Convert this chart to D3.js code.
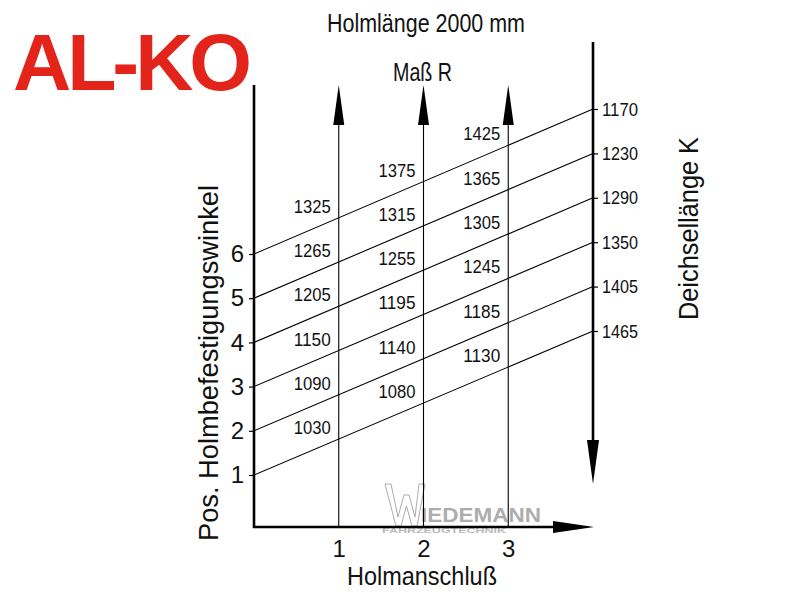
<!DOCTYPE html>
<html>
<head>
<meta charset="utf-8">
<script src="https://cdn.jsdelivr.net/npm/d3@7"></script>
<style>
  body { margin: 0; background: #fff; }
  text { font-family: "Liberation Sans Narrow", "Liberation Sans", sans-serif; fill: #111; }
</style>
</head>
<body>
<script>
// Positions of the Holm fixing angle (left scale)
const positions = [1, 2, 3, 4, 5, 6];
// Deichsellänge K at the right end of each position line (pos 1..6)
const kValues = [1465, 1405, 1350, 1290, 1230, 1170];
// Holmanschluss columns
const columns = [1, 2, 3];
// Maß R per column, for pos 1..6
const massR1 = [1030, 1090, 1150, 1205, 1265, 1325];
const massR2 = [1080, 1140, 1195, 1255, 1315, 1375];
const massR3 = [1130, 1185, 1245, 1305, 1365, 1425];
const massR = [massR1, massR2, massR3];

const width = 800, height = 600;

const svg = d3.select("body").append("svg")
    .attr("width", width)
    .attr("height", height);

// Scales
const x = d3.scaleLinear().domain([0, 4]).range([254, 593]);
const y = d3.scaleLinear().domain([1, 6]).range([475, 254]);
const yK = d3.scalePoint().domain(kValues).range([331, 109]);
const baseY = 527;

// Logo
svg.append("text")
    .attr("x", 13)
    .attr("y", 90)
    .attr("textLength", 235)
    .attr("lengthAdjust", "spacingAndGlyphs")
    .style("font-family", "Liberation Sans, Arial, sans-serif")
    .style("font-weight", "bold")
    .style("font-size", "80px")
    .style("letter-spacing", "-4px")
    .style("fill", "#e3241b")
    .text("AL-KO");

// Watermark (grey, behind the drawing)
const wm = svg.append("g").attr("opacity", 0.8);
wm.append("path")
    .attr("d", "M385,484 L391,484 L398,517 L404,495 L409,495 L415,517 L419,484 L425,484 L417,526 L412,526 L406.5,506 L401,526 L396,526 Z")
    .attr("fill", "none")
    .attr("stroke", "#999")
    .attr("stroke-width", 1);
wm.append("text")
    .attr("x", 421).attr("y", 522)
    .attr("textLength", 120)
    .attr("lengthAdjust", "spacingAndGlyphs")
    .style("font-family", "Liberation Sans, sans-serif")
    .style("font-weight", "bold")
    .style("font-size", "20px")
    .style("fill", "#999")
    .text("IEDEMANN");
wm.append("text")
    .attr("x", 382).attr("y", 532.5)
    .attr("textLength", 124)
    .attr("lengthAdjust", "spacingAndGlyphs")
    .style("font-family", "Liberation Sans, sans-serif")
    .style("font-weight", "bold")
    .style("font-size", "8px")
    .style("fill", "#aaa")
    .text("FAHRZEUGTECHNIK");

// Arrow heads
function arrowHead(tipX, tipY, dir, len, half) {
    let pts;
    if (dir === "up") pts = [[tipX, tipY], [tipX - half, tipY + len], [tipX + half, tipY + len]];
    else if (dir === "down") pts = [[tipX, tipY], [tipX - half, tipY - len], [tipX + half, tipY - len]];
    else pts = [[tipX, tipY], [tipX - len, tipY - half], [tipX - len, tipY + half]];
    svg.append("path")
        .attr("d", d3.line()(pts) + "Z")
        .attr("fill", "#000");
}

// Column verticals (Maß R) with arrows
columns.forEach(c => {
    svg.append("line")
        .attr("x1", x(c)).attr("x2", x(c))
        .attr("y1", baseY).attr("y2", 95)
        .attr("stroke", "#000")
        .attr("stroke-width", 1.1);
    arrowHead(x(c), 85, "up", 40, 5.5);
});

// Diagonal position lines
positions.forEach((p, i) => {
    svg.append("line")
        .attr("x1", x(0)).attr("y1", y(p))
        .attr("x2", x(4)).attr("y2", yK(kValues[i]))
        .attr("stroke", "#000")
        .attr("stroke-width", 1.1);
});

// Maß R labels above each line, left of each column
function yAt(i, c) {
    const y0 = y(positions[i]), y1 = yK(kValues[i]);
    return y0 + (y1 - y0) * c / 4;
}
columns.forEach((c, ci) => {
    massR[ci].forEach((v, i) => {
        svg.append("text")
            .attr("x", x(c) - 45)
            .attr("y", yAt(i, c) - 5)
            .attr("textLength", 37)
            .attr("lengthAdjust", "spacingAndGlyphs")
            .style("font-size", "19px")
            .text(v);
    });
});

// Left axis (positions)
const leftAxis = svg.append("g")
    .attr("transform", `translate(${x(0)},0)`)
    .call(d3.axisLeft(y).tickValues(positions).tickSize(5).tickPadding(5).tickFormat(d3.format("d")));
leftAxis.select(".domain").remove();
leftAxis.selectAll("line").attr("stroke-width", 1.2);
leftAxis.selectAll("text").style("font-size", "24px").style("font-family", null);
svg.append("line")
    .attr("x1", x(0)).attr("x2", x(0))
    .attr("y1", 85).attr("y2", baseY + 1)
    .attr("stroke", "#000").attr("stroke-width", 2.6);

// Bottom axis (Holmanschluss)
const bottomAxis = svg.append("g")
    .attr("transform", `translate(0,${baseY})`)
    .call(d3.axisBottom(x).tickValues(columns).tickSize(0).tickPadding(13).tickFormat(d3.format("d")));
bottomAxis.select(".domain").remove();
bottomAxis.selectAll("text").style("font-size", "24px").style("font-family", null);
svg.append("line")
    .attr("x1", x(0) - 1).attr("x2", 560)
    .attr("y1", baseY).attr("y2", baseY)
    .attr("stroke", "#000").attr("stroke-width", 2.6);
arrowHead(594, baseY, "right", 41, 6);

// Right axis (Deichsellänge K)
const rightAxis = svg.append("g")
    .attr("transform", `translate(${x(4)},0)`)
    .call(d3.axisRight(yK).tickSize(5).tickPadding(4));
rightAxis.select(".domain").remove();
rightAxis.selectAll("line").attr("stroke-width", 1.2);
rightAxis.selectAll("text")
    .attr("textLength", 36)
    .attr("lengthAdjust", "spacingAndGlyphs")
    .style("font-size", "19px")
    .style("font-family", null);
svg.append("line")
    .attr("x1", x(4)).attr("x2", x(4))
    .attr("y1", 42).attr("y2", 450)
    .attr("stroke", "#000").attr("stroke-width", 2.6);
arrowHead(x(4), 484, "down", 44, 6);

// Titles and axis labels
svg.append("text")
    .attr("x", 327).attr("y", 32)
    .attr("textLength", 198)
    .attr("lengthAdjust", "spacingAndGlyphs")
    .style("font-size", "26px")
    .text("Holmlänge 2000 mm");

svg.append("text")
    .attr("x", 393).attr("y", 81)
    .attr("textLength", 59)
    .attr("lengthAdjust", "spacingAndGlyphs")
    .style("font-size", "25px")
    .text("Maß R");

svg.append("text")
    .attr("x", 347).attr("y", 585)
    .attr("textLength", 150)
    .attr("lengthAdjust", "spacingAndGlyphs")
    .style("font-size", "26px")
    .text("Holmanschluß");

svg.append("text")
    .attr("transform", "translate(218,541) rotate(-90)")
    .attr("textLength", 356)
    .attr("lengthAdjust", "spacingAndGlyphs")
    .style("font-size", "27px")
    .text("Pos. Holmbefestigungswinkel");

svg.append("text")
    .attr("transform", "translate(698,320) rotate(-90)")
    .attr("textLength", 183)
    .attr("lengthAdjust", "spacingAndGlyphs")
    .style("font-size", "27px")
    .text("Deichsellänge K");
</script>
</body>
</html>
